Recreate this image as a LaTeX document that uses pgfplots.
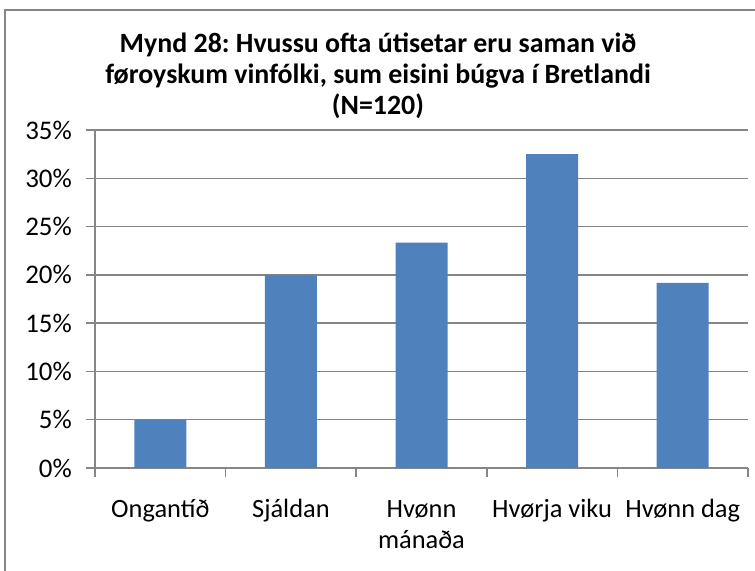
\documentclass[border=0pt]{standalone}
\usepackage{fontspec}
\setmainfont{Carlito}
\usepackage{pgfplots}
\pgfplotsset{compat=1.18}
\definecolor{barblue}{HTML}{4F81BD}
\definecolor{gridgray}{HTML}{868686}
\frenchspacing
\begin{document}
\begin{tikzpicture}[x=1bp,y=1bp]
\useasboundingbox (0,0) rectangle (755,571);
\draw[gridgray, line width=1.6bp] (5,-20) -- (5,561) -- (780,561);
\node[align=center, font=\fontsize{28}{31}\selectfont\bfseries, text=black] at (378,495)
  {Mynd 28: Hvussu ofta útisetar eru saman við\\føroyskum vinfólki, sum eisini búgva í Bretlandi\\(N=120)};
\begin{axis}[
  at={(95bp,103bp)}, anchor=south west,
  scale only axis, width=653bp, height=338bp,
  xmin=0, xmax=5, ymin=0, ymax=35,
  axis x line*=bottom, axis y line*=left,
  axis line style={draw=gridgray, line width=1.5bp},
  ytick={0,5,...,35}, ymajorgrids,
  grid style={draw=gridgray, line width=1.5bp},
  tick align=outside, major tick length=9bp,
  tick style={draw=gridgray, line width=1.5bp},
  yticklabel={\pgfmathprintnumber{\tick}\%},
  /pgf/number format/assume math mode=true,
  yticklabel style={font=\fontsize{27}{30}\selectfont, text=black, inner sep=0pt, xshift=-14bp},
  xtick={0.5,1.5,2.5,3.5,4.5},
  xticklabels={{\strut Ongantíð}, {\strut Sjáldan}, {\strut Hvønn\\mánaða}, {\strut Hvørja viku}, {\strut Hvønn dag}},
  xtick style={draw=none},
  xticklabel style={font=\fontsize{26.5}{31}\selectfont, text=black, align=center, anchor=north, inner sep=0pt, yshift=-19bp},
  extra x ticks={0,1,2,3,4,5}, extra x tick labels={},
  extra x tick style={grid=none, xtick style={draw=gridgray, line width=1.5bp}},
  clip=false,
]
\addplot[ybar, bar width=52bp, fill=barblue, draw=none]
  coordinates {(0.5,5) (1.5,20) (2.5,23.33) (3.5,32.5) (4.5,19.17)};
\end{axis}
\end{tikzpicture}
\end{document}
